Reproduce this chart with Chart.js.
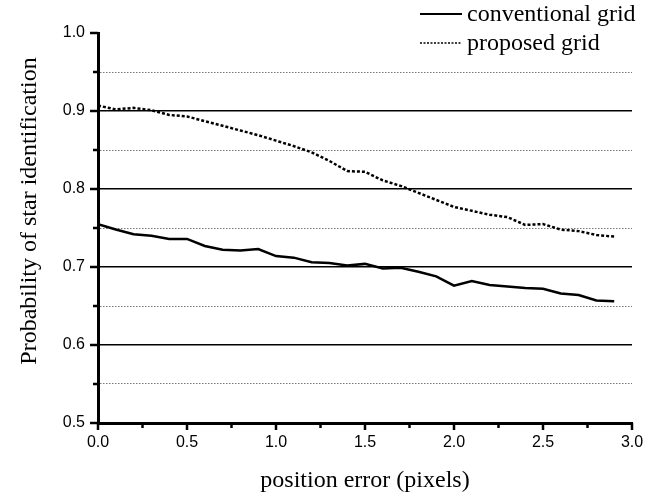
<!DOCTYPE html>
<html>
<head>
<meta charset="utf-8">
<script src="https://cdn.jsdelivr.net/npm/chart.js@4"></script>
<style>
  html, body { margin: 0; padding: 0; background: #fff; }
  #wrap { width: 647px; height: 493px; position: relative; }
</style>
</head>
<body>
<div id="wrap"><canvas id="c" width="647" height="493"></canvas></div>
<script>
// ---- data ----
const positionError = [0.0, 0.1, 0.2, 0.3, 0.4, 0.5, 0.6, 0.7, 0.8, 0.9,
                       1.0, 1.1, 1.2, 1.3, 1.4, 1.5, 1.6, 1.7, 1.8, 1.9,
                       2.0, 2.1, 2.2, 2.3, 2.4, 2.5, 2.6, 2.7, 2.8, 2.9];
const conventionalGrid = [0.755, 0.748, 0.742, 0.740, 0.736, 0.736, 0.727, 0.722, 0.721, 0.723,
                          0.714, 0.712, 0.706, 0.705, 0.702, 0.704, 0.698, 0.699, 0.694, 0.688,
                          0.676, 0.682, 0.677, 0.675, 0.673, 0.672, 0.666, 0.664, 0.657, 0.656];
const proposedGrid = [0.907, 0.902, 0.904, 0.901, 0.895, 0.893, 0.887, 0.881, 0.875, 0.869,
                      0.862, 0.855, 0.847, 0.836, 0.823, 0.822, 0.811, 0.804, 0.795, 0.786,
                      0.777, 0.772, 0.767, 0.764, 0.754, 0.755, 0.748, 0.746, 0.741, 0.739];
const seriesLabels = ['conventional grid', 'proposed grid'];
const xTitle = 'position error (pixels)';
const yTitle = 'Probability of star identification';

const SERIF = '"Liberation Serif", "Times New Roman", serif';
const SANS = '"Liberation Sans", Arial, sans-serif';

function isMajor(v, step) {
  const r = v / step;
  return Math.abs(r - Math.round(r)) < 1e-6;
}

const toPts = (ys) => positionError.map((x, i) => ({ x: x, y: ys[i] }));

const customPlugin = {
  id: 'custom',
  afterDraw(chart) {
    const ctx = chart.ctx;
    const xs = chart.scales.x, ys = chart.scales.y;
    const ca = chart.chartArea;
    ctx.save();
    // tick marks
    ctx.strokeStyle = '#000';
    ctx.lineWidth = 2.5;
    ctx.setLineDash([]);
    ys.ticks.forEach(t => {
      const p = ys.getPixelForValue(t.value);
      const len = isMajor(t.value, 0.1) ? 8 : 5;
      ctx.beginPath();
      ctx.moveTo(ca.left - len, p);
      ctx.lineTo(ca.left, p);
      ctx.stroke();
    });
    xs.ticks.forEach(t => {
      const p = xs.getPixelForValue(t.value);
      const len = isMajor(t.value, 0.5) ? 7 : 5;
      ctx.beginPath();
      ctx.moveTo(p, ca.bottom);
      ctx.lineTo(p, ca.bottom + len);
      ctx.stroke();
    });
    // y title
    ctx.save();
    ctx.translate(30, 211);
    ctx.rotate(-Math.PI / 2);
    ctx.fillStyle = '#000';
    ctx.font = '24px ' + SERIF;
    ctx.textAlign = 'center';
    ctx.textBaseline = 'middle';
    ctx.fillText(yTitle, 0, 0);
    ctx.restore();
    // legend
    const rows = [
      { y: 14, dash: [], w: 2, label: seriesLabels[0] },
      { y: 43, dash: [2, 1.5], w: 1.5, label: seriesLabels[1] }
    ];
    ctx.font = '24px ' + SERIF;
    ctx.textAlign = 'left';
    ctx.textBaseline = 'middle';
    ctx.fillStyle = '#000';
    rows.forEach(r => {
      ctx.setLineDash(r.dash);
      ctx.lineWidth = r.w;
      ctx.beginPath();
      ctx.moveTo(420, r.y);
      ctx.lineTo(462, r.y);
      ctx.stroke();
      ctx.setLineDash([]);
      ctx.fillText(r.label, 467, r.y + 1);
    });
    ctx.restore();
  }
};

new Chart(document.getElementById('c'), {
  type: 'line',
  data: {
    datasets: [
      {
        label: seriesLabels[0],
        data: toPts(conventionalGrid),
        borderColor: '#000',
        borderWidth: 2.5,
        pointRadius: 0,
        tension: 0,
        fill: false
      },
      {
        label: seriesLabels[1],
        data: toPts(proposedGrid),
        borderColor: '#000',
        borderWidth: 2.5,
        borderDash: [3, 2],
        pointRadius: 0,
        tension: 0,
        fill: false
      }
    ]
  },
  options: {
    responsive: false,
    animation: false,
    devicePixelRatio: 1,
    layout: { padding: { left: 0, right: 15, top: 33, bottom: 0 } },
    plugins: { legend: { display: false }, tooltip: { enabled: false } },
    scales: {
      x: {
        type: 'linear',
        min: 0, max: 3,
        afterFit(scale) { scale.height = 70; scale.paddingLeft = 0; scale.paddingRight = 0; },
        ticks: {
          stepSize: 0.25,
          autoSkip: false,
          maxRotation: 0,
          padding: 10,
          color: '#000',
          font: { family: SANS, size: 16 },
          callback: (v) => isMajor(v, 0.5) ? Number(v).toFixed(1) : ''
        },
        grid: { display: false, drawTicks: false },
        border: { display: true, color: '#000', width: 3 },
        title: {
          display: true,
          text: xTitle,
          color: '#000',
          font: { family: SERIF, size: 24, lineHeight: 1.0 },
          padding: { top: 0, bottom: 0 }
        }
      },
      y: {
        type: 'linear',
        min: 0.5, max: 1.0,
        afterFit(scale) { scale.width = 98; scale.paddingTop = 0; scale.paddingBottom = 0; },
        ticks: {
          stepSize: 0.05,
          autoSkip: false,
          padding: 13,
          color: '#000',
          font: { family: SANS, size: 16 },
          callback: (v) => isMajor(v, 0.1) ? Number(v).toFixed(1) : ''
        },
        grid: {
          drawTicks: false,
          color: (c) => {
            if (!c.tick) return '#000';
            const v = c.tick.value;
            if (Math.abs(v - 1) < 1e-6 || Math.abs(v - 0.5) < 1e-6) return 'rgba(0,0,0,0)';
            return isMajor(v, 0.1) ? '#000' : '#777';
          },
          lineWidth: (c) => (c.tick && isMajor(c.tick.value, 0.1)) ? 1.6 : 1
        },
        border: {
          display: true,
          color: '#000',
          width: 3,
          dash: (c) => (c.tick && !isMajor(c.tick.value, 0.1)) ? [1.5, 1.5] : []
        }
      }
    }
  },
  plugins: [customPlugin]
});
</script>
</body>
</html>
